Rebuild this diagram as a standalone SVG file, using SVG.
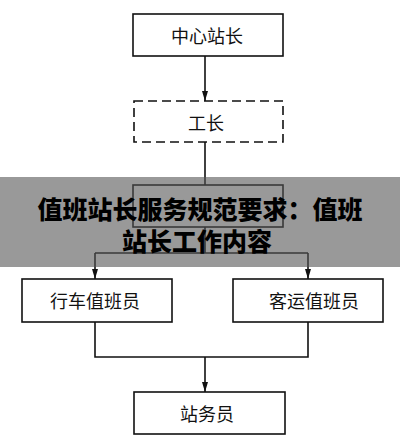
<svg xmlns="http://www.w3.org/2000/svg" width="400" height="447" viewBox="0 0 400 447">
<style>
.box{fill:#fff;stroke:#111;stroke-width:1.6}
.dash{stroke-dasharray:9 5}
.lbl{font-family:"Noto Sans CJK SC","Noto Sans CJK JP",sans-serif;font-size:18px;fill:#111;text-anchor:middle;dominant-baseline:central}
.con{fill:none;stroke:#111;stroke-width:1.6}
.ban{font-family:"Noto Sans CJK SC","Noto Sans CJK JP",sans-serif;font-size:25px;font-weight:900;fill:#000;text-anchor:middle}
</style>
<defs>
<marker id="ah" viewBox="0 0 10 6" refX="10" refY="3" markerWidth="10" markerHeight="6" markerUnits="userSpaceOnUse" orient="auto">
<path d="M0,0 L10,3 L0,6 Z" fill="#111"/>
</marker>
</defs>
<rect width="400" height="447" fill="#fff"/>
<g id="connectors">
<path class="con" d="M205,56 V101" marker-end="url(#ah)"/>
<path class="con" d="M205,142 V185"/>
<path class="con" d="M205,227 V253 M95,253 H308"/>
<path class="con" d="M95,253 V279" marker-end="url(#ah)"/>
<path class="con" d="M308,253 V279" marker-end="url(#ah)"/>
<path class="con" d="M95,322 V357 H308 V322"/>
<path class="con" d="M205,357 V392" marker-end="url(#ah)"/>
</g>
<g id="n1"><rect class="box" x="133" y="14" width="150" height="42"/><text class="lbl" x="207" y="35">中心站长</text></g>
<g id="n2"><rect class="box dash" x="134" y="101" width="149" height="41"/><text class="lbl" x="206" y="122">工长</text></g>
<g id="n3"><rect class="box" x="133" y="185" width="150" height="42"/></g>
<g id="n4"><rect class="box" x="22" y="279" width="150" height="43"/><text class="lbl" x="95" y="300">行车值班员</text></g>
<g id="n5"><rect class="box" x="233" y="279" width="150" height="43"/><text class="lbl" x="314" y="300">客运值班员</text></g>
<g id="n6"><rect class="box" x="134" y="392" width="151" height="42"/><text class="lbl" x="207" y="413">站务员</text></g>
<g id="banner">
<rect x="0" y="177" width="400" height="90" fill="#555" fill-opacity="0.6"/>
<text class="ban" x="200" y="219">值班站长服务规范要求：值班</text>
<text class="ban" x="197" y="251">站长工作内容</text>
</g>
</svg>
